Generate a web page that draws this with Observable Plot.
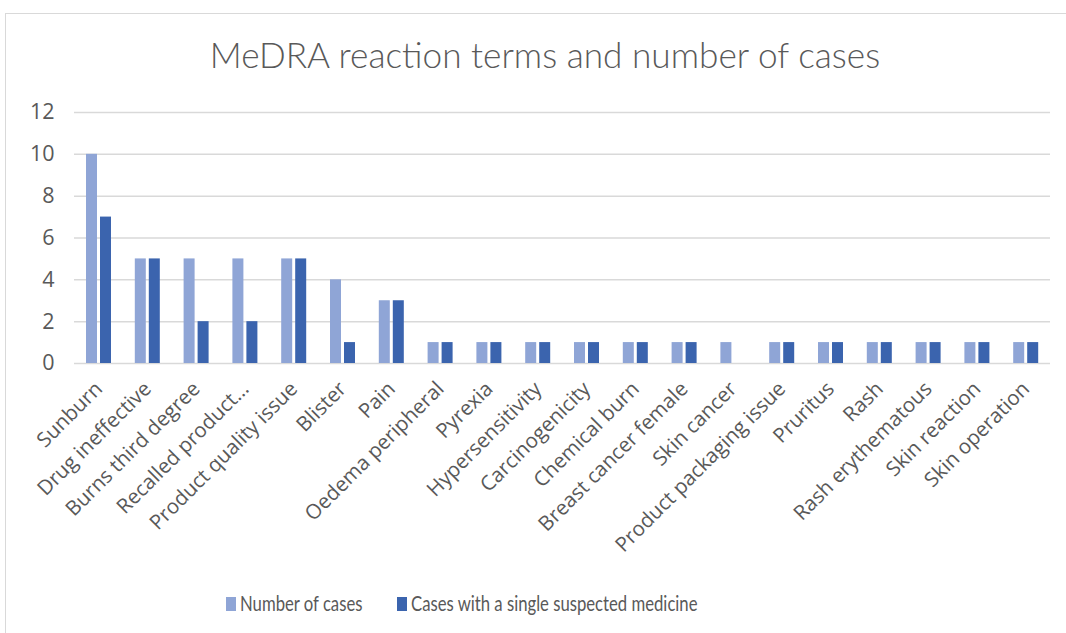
<!DOCTYPE html>
<html>
<head>
<meta charset="utf-8">
<script src="https://cdn.jsdelivr.net/npm/d3@7"></script>
<script src="https://cdn.jsdelivr.net/npm/@observablehq/plot@0.6"></script>
<style>
  html, body { margin: 0; padding: 0; background: #fff; }
  #wrap { position: relative; width: 1066px; height: 633px; overflow: hidden; background: #fff; }
  #frame { position: absolute; left: 5px; top: 13px; width: 1100px; height: 700px; border-left: 1.5px solid #d9d9d9; border-top: 1.5px solid #d9d9d9; }
  #title { position: absolute; left: 0; width: 1090px; top: 33px; text-align: center; font-family: Lato, "Open Sans", sans-serif; font-weight: 300; font-size: 35.2px; color: #595959; }
  #chart { position: absolute; left: 0; top: 90px; }
  .sw { position: absolute; top: 597px; width: 10px; height: 14px; }
  .lt { position: absolute; top: 590px; font-family: Lato, sans-serif; font-size: 21px; color: #595959; transform: scaleX(0.795); transform-origin: left center; white-space: nowrap; }
  #chart svg text { font-family: 'Open Sans', sans-serif; }
</style>
</head>
<body>
<div id="wrap">
  <div id="frame"></div>
  <div id="title">MeDRA reaction terms and number of cases</div>
  <div id="chart"></div>
  <div id="legend"></div>
</div>
<script>
const categories = ["Sunburn", "Drug ineffective", "Burns third degree", "Recalled product…", "Product quality issue", "Blister", "Pain", "Oedema peripheral", "Pyrexia", "Hypersensitivity", "Carcinogenicity", "Chemical burn", "Breast cancer female", "Skin cancer", "Product packaging issue", "Pruritus", "Rash", "Rash erythematous", "Skin reaction", "Skin operation"];
const seriesNames = ["Number of cases", "Cases with a single suspected medicine"];
const numberOfCases = [10, 5, 5, 5, 5, 4, 3, 1, 1, 1, 1, 1, 1, 1, 1, 1, 1, 1, 1, 1];
const singleSuspect = [7, 5, 2, 2, 5, 1, 3, 1, 1, 1, 1, 1, 1, 0, 1, 1, 1, 1, 1, 1];
const yTicks = [0, 2, 4, 6, 8, 10, 12];
const colors = ["#8FA5D6", "#3B64AE"];

const data1 = categories.map((c, i) => ({cat: c, series: seriesNames[0], value: numberOfCases[i]}));
const data2 = categories.map((c, i) => ({cat: c, series: seriesNames[1], value: singleSuspect[i]}));

const W = 1066, mL = 74, mR = 16;
const band = (W - mL - mR) / categories.length;

const chart = Plot.plot({
  width: W,
  height: 480,
  marginLeft: mL,
  marginRight: mR,
  marginTop: 22,
  marginBottom: 207,
  style: {fontFamily: "'Open Sans', sans-serif", color: "#595959", background: "transparent"},
  x: {domain: categories, padding: 0, round: false},
  y: {domain: [0, 12]},
  color: {domain: seriesNames, range: colors},
  marks: [
    Plot.ruleY(yTicks, {stroke: "#d9d9d9", strokeWidth: 1.5}),
    Plot.barY(data1, {x: "cat", y: "value", fill: colors[0], insetLeft: 12, insetRight: band - 23}),
    Plot.barY(data2, {x: "cat", y: "value", fill: colors[1], insetLeft: 26, insetRight: band - 37}),
    Plot.axisY(yTicks, {tickSize: 0, tickPadding: 20, fontSize: 21.5, label: null, fill: "#595959"}),
    Plot.axisX({tickSize: 0, tickPadding: 22, tickRotate: -45, fontSize: 20.5, label: null, fill: "#595959"})
  ]
});
document.getElementById("chart").appendChild(chart);

const legend = document.getElementById("legend");
const swX = [226, 397], txX = [240, 411];
seriesNames.forEach((s, i) => {
  const sw = document.createElement("div");
  sw.className = "sw";
  sw.style.left = swX[i] + "px";
  sw.style.background = colors[i];
  legend.appendChild(sw);
  const t = document.createElement("div");
  t.className = "lt";
  t.style.left = txX[i] + "px";
  t.textContent = s;
  legend.appendChild(t);
});
</script>
</body>
</html>
